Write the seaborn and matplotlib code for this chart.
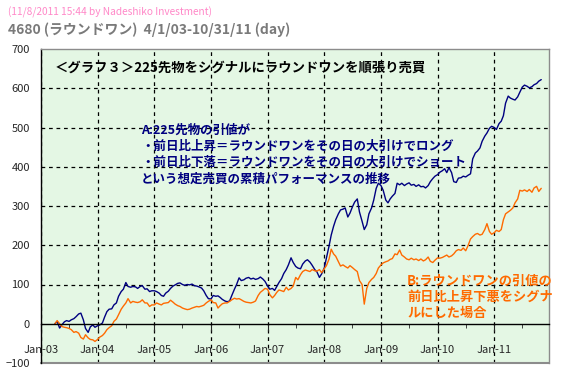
import pandas as pd
import matplotlib
matplotlib.use('Agg')
import matplotlib.pyplot as plt
import matplotlib.dates as mdates
import seaborn as sns

# semi-monthly samples, Apr 2003 - Oct 2011
dates = list(pd.date_range('2003-04-01', '2011-10-15', freq='SMS')) + [pd.Timestamp('2011-10-31')]

# A: signal = 225 futures
blue_2003 = [0, 6, -11, -3, 5, 8, 6, 10, 13, 18, 25, 27, 10, -12, -22, -8, -3, -9]
blue_2004 = [-5, -3, 2, 17, 31, 37, 38, 48, 53, 70, 82, 88, 105, 95, 93, 95, 94, 90, 95, 97, 88, 89, 82, 84]
blue_2005 = [84, 82, 78, 72, 70, 78, 83, 90, 96, 99, 103, 104, 100, 98, 100, 99, 101, 97, 96, 94, 91, 84, 72, 64]
blue_2006 = [63, 72, 70, 71, 67, 62, 58, 56, 58, 72, 88, 100, 117, 110, 112, 116, 118, 114, 116, 113, 115, 119, 114, 108]
blue_2007 = [96, 88, 90, 85, 95, 105, 115, 128, 138, 150, 168, 156, 146, 142, 140, 152, 160, 163, 157, 149, 138, 132, 118, 127]
blue_2008 = [142, 167, 198, 226, 248, 265, 280, 290, 292, 295, 272, 282, 298, 310, 318, 285, 261, 240, 252, 280, 295, 315, 345, 358]
blue_2009 = [352, 340, 315, 308, 318, 325, 332, 358, 354, 358, 352, 356, 359, 353, 355, 350, 354, 349, 350, 346, 352, 362, 370, 376]
blue_2010 = [380, 386, 390, 395, 385, 398, 385, 362, 360, 371, 372, 376, 374, 378, 382, 420, 435, 440, 448, 465, 478, 486, 498, 503]
blue_2011 = [500, 495, 510, 516, 530, 562, 580, 575, 572, 570, 578, 590, 603, 608, 605, 601, 604, 609, 612, 618, 622]

# B: signal = Round One itself
orange_2003 = [0, 8, 0, -7, -9, -10, -12, -15, -22, -20, -24, -35, -39, -28, -36, -40, -41, -45]
orange_2004 = [-40, -34, -30, -24, -15, -10, -5, 6, 12, 23, 37, 45, 53, 64, 53, 57, 55, 54, 56, 61, 53, 53, 44, 48]
orange_2005 = [48, 53, 50, 48, 52, 53, 54, 60, 55, 50, 46, 44, 40, 38, 36, 37, 40, 42, 44, 43, 45, 47, 53, 57]
orange_2006 = [61, 54, 53, 40, 46, 51, 53, 53, 57, 61, 65, 63, 64, 61, 57, 55, 54, 53, 55, 58, 72, 80, 85, 90]
orange_2007 = [88, 74, 66, 72, 80, 86, 84, 82, 93, 86, 90, 96, 118, 112, 125, 133, 137, 135, 133, 138, 135, 134, 138, 130]
orange_2008 = [140, 148, 165, 190, 178, 172, 158, 147, 150, 146, 142, 148, 143, 138, 133, 110, 100, 50, 90, 105, 113, 118, 128, 142]
orange_2009 = [150, 155, 158, 160, 164, 166, 178, 176, 188, 175, 170, 165, 163, 167, 163, 165, 161, 165, 160, 163, 170, 159, 156, 162]
orange_2010 = [168, 167, 169, 172, 175, 170, 173, 178, 186, 189, 187, 193, 186, 198, 216, 222, 228, 230, 226, 228, 240, 255, 235, 228]
orange_2011 = [232, 238, 235, 240, 265, 280, 285, 289, 295, 308, 318, 340, 338, 341, 337, 342, 335, 346, 350, 337, 345]

blue = blue_2003 + blue_2004 + blue_2005 + blue_2006 + blue_2007 + blue_2008 + blue_2009 + blue_2010 + blue_2011
orange = (orange_2003 + orange_2004 + orange_2005 + orange_2006 + orange_2007 + orange_2008
          + orange_2009 + orange_2010 + orange_2011)

df = pd.DataFrame({'date': dates, 'A': blue, 'B': orange})

sns.set_style('white')
plt.rcParams['font.family'] = ['Noto Sans CJK JP', 'DejaVu Sans']

W, H = 577, 377
fig = plt.figure(figsize=(W / 100, H / 100), dpi=100)
ax = fig.add_axes([41 / W, 14 / H, 508 / W, 314 / H])
ax.set_facecolor('#e4f7e4')

sns.lineplot(data=df, x='date', y='A', color='#000080', lw=1.0, ax=ax)
sns.lineplot(data=df, x='date', y='B', color='#ff6a00', lw=1.0, ax=ax)

ax.set_xlim(pd.Timestamp('2003-01-01'), pd.Timestamp('2011-12-20'))
ax.set_ylim(-100, 700)
ax.set_yticks(range(-100, 701, 100))
ax.xaxis.set_major_locator(mdates.YearLocator())
ax.xaxis.set_minor_locator(mdates.MonthLocator(bymonth=7))
ax.xaxis.set_major_formatter(mdates.DateFormatter('%b-%y'))
ax.set_xlabel('')
ax.set_ylabel('')

ax.grid(True, which='major', color='black', linestyle=(0, (3, 3)), lw=0.9)
for gl, v in zip(ax.get_ygridlines(), ax.get_yticks()):
    if v in (-100, 0, 700):
        gl.set_visible(False)

ax.spines['bottom'].set_position(('data', 0))
ax.spines['bottom'].set_color('black')
ax.spines['left'].set_color('black')
for s in ('top', 'right'):
    ax.spines[s].set_color('#8c8c8c')
for s in ax.spines.values():
    s.set_linewidth(1.0)
    s.set_zorder(5)
ax.axhline(-100, color='#8c8c8c', lw=1.5, clip_on=False, zorder=5)

ax.tick_params(axis='x', which='major', length=5, pad=10, labelsize=8, direction='out', bottom=True)
ax.tick_params(axis='x', which='minor', length=3, direction='out', bottom=True)
ax.tick_params(axis='y', length=0, pad=8, labelsize=8)

# header lines
fig.text(8 / W, 1 - 12 / H, '(11/8/2011 15:44 by Nadeshiko Investment)', color='#ff88c8',
         fontsize=7.3, va='center', ha='left')
fig.text(8 / W, 1 - 30 / H, '4680 (ラウンドワン)  4/1/03-10/31/11 (day)', color='#7a7a7a',
         fontsize=10, fontweight='bold', va='center', ha='left')

# in-chart annotations
fig.text(55 / W, 1 - 68 / H, '＜グラフ３＞225先物をシグナルにラウンドワンを順張り売買', color='black',
         fontsize=9.6, fontweight='bold', va='center', ha='left')
blue_lines = ['A:225先物の引値が',
              '・前日比上昇＝ラウンドワンをその日の大引けでロング',
              '・前日比下落＝ラウンドワンをその日の大引けでショート',
              'という想定売買の累積パフォーマンスの推移']
for i, line in enumerate(blue_lines):
    fig.text(141 / W, 1 - (130 + 16.3 * i) / H, line, color='#000080', fontsize=9,
             fontweight='bold', va='center', ha='left')
orange_lines = ['B:ラウンドワンの引値の', '前日比上昇下悪をシグナ', 'ルにした場合']
for i, line in enumerate(orange_lines):
    fig.text(407 / W, 1 - (281 + 16 * i) / H, line, color='#ff6a00', fontsize=9.5,
             fontweight='bold', va='center', ha='left')

fig.savefig('out.png', dpi=100, facecolor='white')
